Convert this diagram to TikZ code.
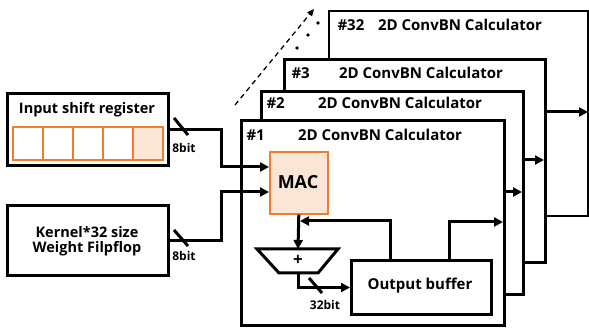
\documentclass[tikz,border=0pt]{standalone}
\usepackage{fontspec}
\setmainfont{Open Sans}
\usetikzlibrary{arrows.meta}
\definecolor{macfill}{HTML}{FBE5D6}
\definecolor{macdraw}{HTML}{ED7D31}
\begin{document}
\begin{tikzpicture}[x=1pt,y=-1pt,
  box/.style={draw, line width=3pt, fill=white, anchor=north west, inner sep=0pt},
  wire/.style={line width=3pt},
  arr/.style={wire, -{Triangle[length=9pt,width=9pt]}},
  ttl/.style={font=\bfseries\fontsize{15}{17}\selectfont},
  ltl/.style={font=\bfseries\fontsize{14.5}{17}\selectfont},
  small/.style={font=\bfseries\fontsize{12}{13}\selectfont},
  cell/.style={draw=macdraw, line width=1.6pt, minimum width=30pt, minimum height=33pt, anchor=north west, inner sep=0pt}
]
\useasboundingbox (0,0) rectangle (589,328);

% left boxes
\node[box, minimum width=161pt, minimum height=72pt] (isr) at (6,92) {};
\node[ltl] (isrt) at (87,110) {Input shift register};
\node[cell] (c1) at (12,126) {};
\node[cell] (c2) at (42,126) {};
\node[cell] (c3) at (72,126) {};
\node[cell] (c4) at (102,126) {};
\node[cell, fill=macfill] (c5) at (132,126) {};

\node[box, minimum width=161pt, minimum height=70pt] (kw) at (6,204) {};
\node[ltl, align=center] (kwt) at (87,241) {Kernel*32 size\\[-2pt]Weight Filpflop};

% stacked calculators
\node[box, line width=1.8pt, minimum width=259pt, minimum height=205pt] (b32) at (328,10) {};
\node[ttl, anchor=west] (n32) at (334,25) {\#32};
\node[ttl] (t32) at (460,25) {2D ConvBN Calculator};

\node[box, minimum width=261pt, minimum height=203pt] (b3) at (283,58) {};
\node[ttl, anchor=west] (n3) at (288,73) {\#3};
\node[ttl] (t3) at (421,73) {2D ConvBN Calculator};

\node[box, minimum width=262pt, minimum height=203pt] (b2) at (260,90) {};
\node[ttl, anchor=west] (n2) at (263,103) {\#2};
\node[ttl] (t2) at (400,103) {2D ConvBN Calculator};

\node[box, minimum width=263pt, minimum height=205pt] (b1) at (240,119) {};
\node[ttl, anchor=west] (n1) at (243,135) {\#1};
\node[ttl] (t1) at (380,135) {2D ConvBN Calculator};

% dashed arrow and dots
\coordinate (d1) at (235,105);
\coordinate (d2) at (314,9);
\draw[line width=1.3pt, dash pattern=on 5pt off 4pt, -{Triangle[length=7pt,width=6pt]}] (d1) -- (d2);
\fill (297,48) circle (1.8pt);
\fill (308,35) circle (1.8pt);
\fill (318,23) circle (1.8pt);

% MAC
\node[draw=macdraw, fill=macfill, line width=1.6pt, minimum width=58pt, minimum height=62pt, anchor=north west, inner sep=0pt] (mac) at (269,151) {};
\node[font=\bfseries\fontsize{18}{20}\selectfont] (mact) at (298,182) {MAC};

% adder
\draw[wire] (257,249) -- (338,249) -- (318,273) -- (279,273) -- cycle;
\node[font=\bfseries\fontsize{17}{18}\selectfont] (add) at (298,260) {+};
\coordinate (addtop) at (298,249);
\coordinate (addbot) at (298,273);

% output buffer
\node[box, minimum width=140pt, minimum height=54pt] (ob) at (350,259) {};
\node[ttl] (obt) at (420,286) {Output buffer};

% inputs to MAC
\coordinate (macin1) at (269,167);
\coordinate (macin2) at (269,192);
\draw[arr] (isr.east) -- ++(51,0) |- (macin1);
\draw[arr] (kw.east) -- ++(51,0) |- (macin2);
\draw[wire] (174,118) -- (188,135);
\draw[wire] (174,230) -- (188,246);
\node[small] (l1) at (184,148) {8bit};
\node[small] (l2) at (184,256) {8bit};

% internal datapath
\draw[arr] (mac.south) -- (addtop);
\coordinate (fbout) at (390,259);
\coordinate (fbin) at (300,221);
\draw[arr] (fbout) |- (fbin);
\draw[arr] (addbot) |- (ob.west);
\draw[wire] (309,278) -- (322,293);
\node[small] (l3) at (325,305) {32bit};
\coordinate (obout) at (449,259);
\coordinate (o1) at (503,222);
\draw[arr] (obout) |- (o1);

% stack outputs
\coordinate (s1a) at (503,192); \coordinate (s1b) at (522,192);
\coordinate (s2a) at (522,160); \coordinate (s2b) at (544,160);
\coordinate (s3a) at (544,112); \coordinate (s3b) at (588,112);
\draw[arr] (s1a) -- (s1b);
\draw[arr] (s2a) -- (s2b);
\draw[arr] (s3a) -- (s3b);
\end{tikzpicture}
\end{document}
